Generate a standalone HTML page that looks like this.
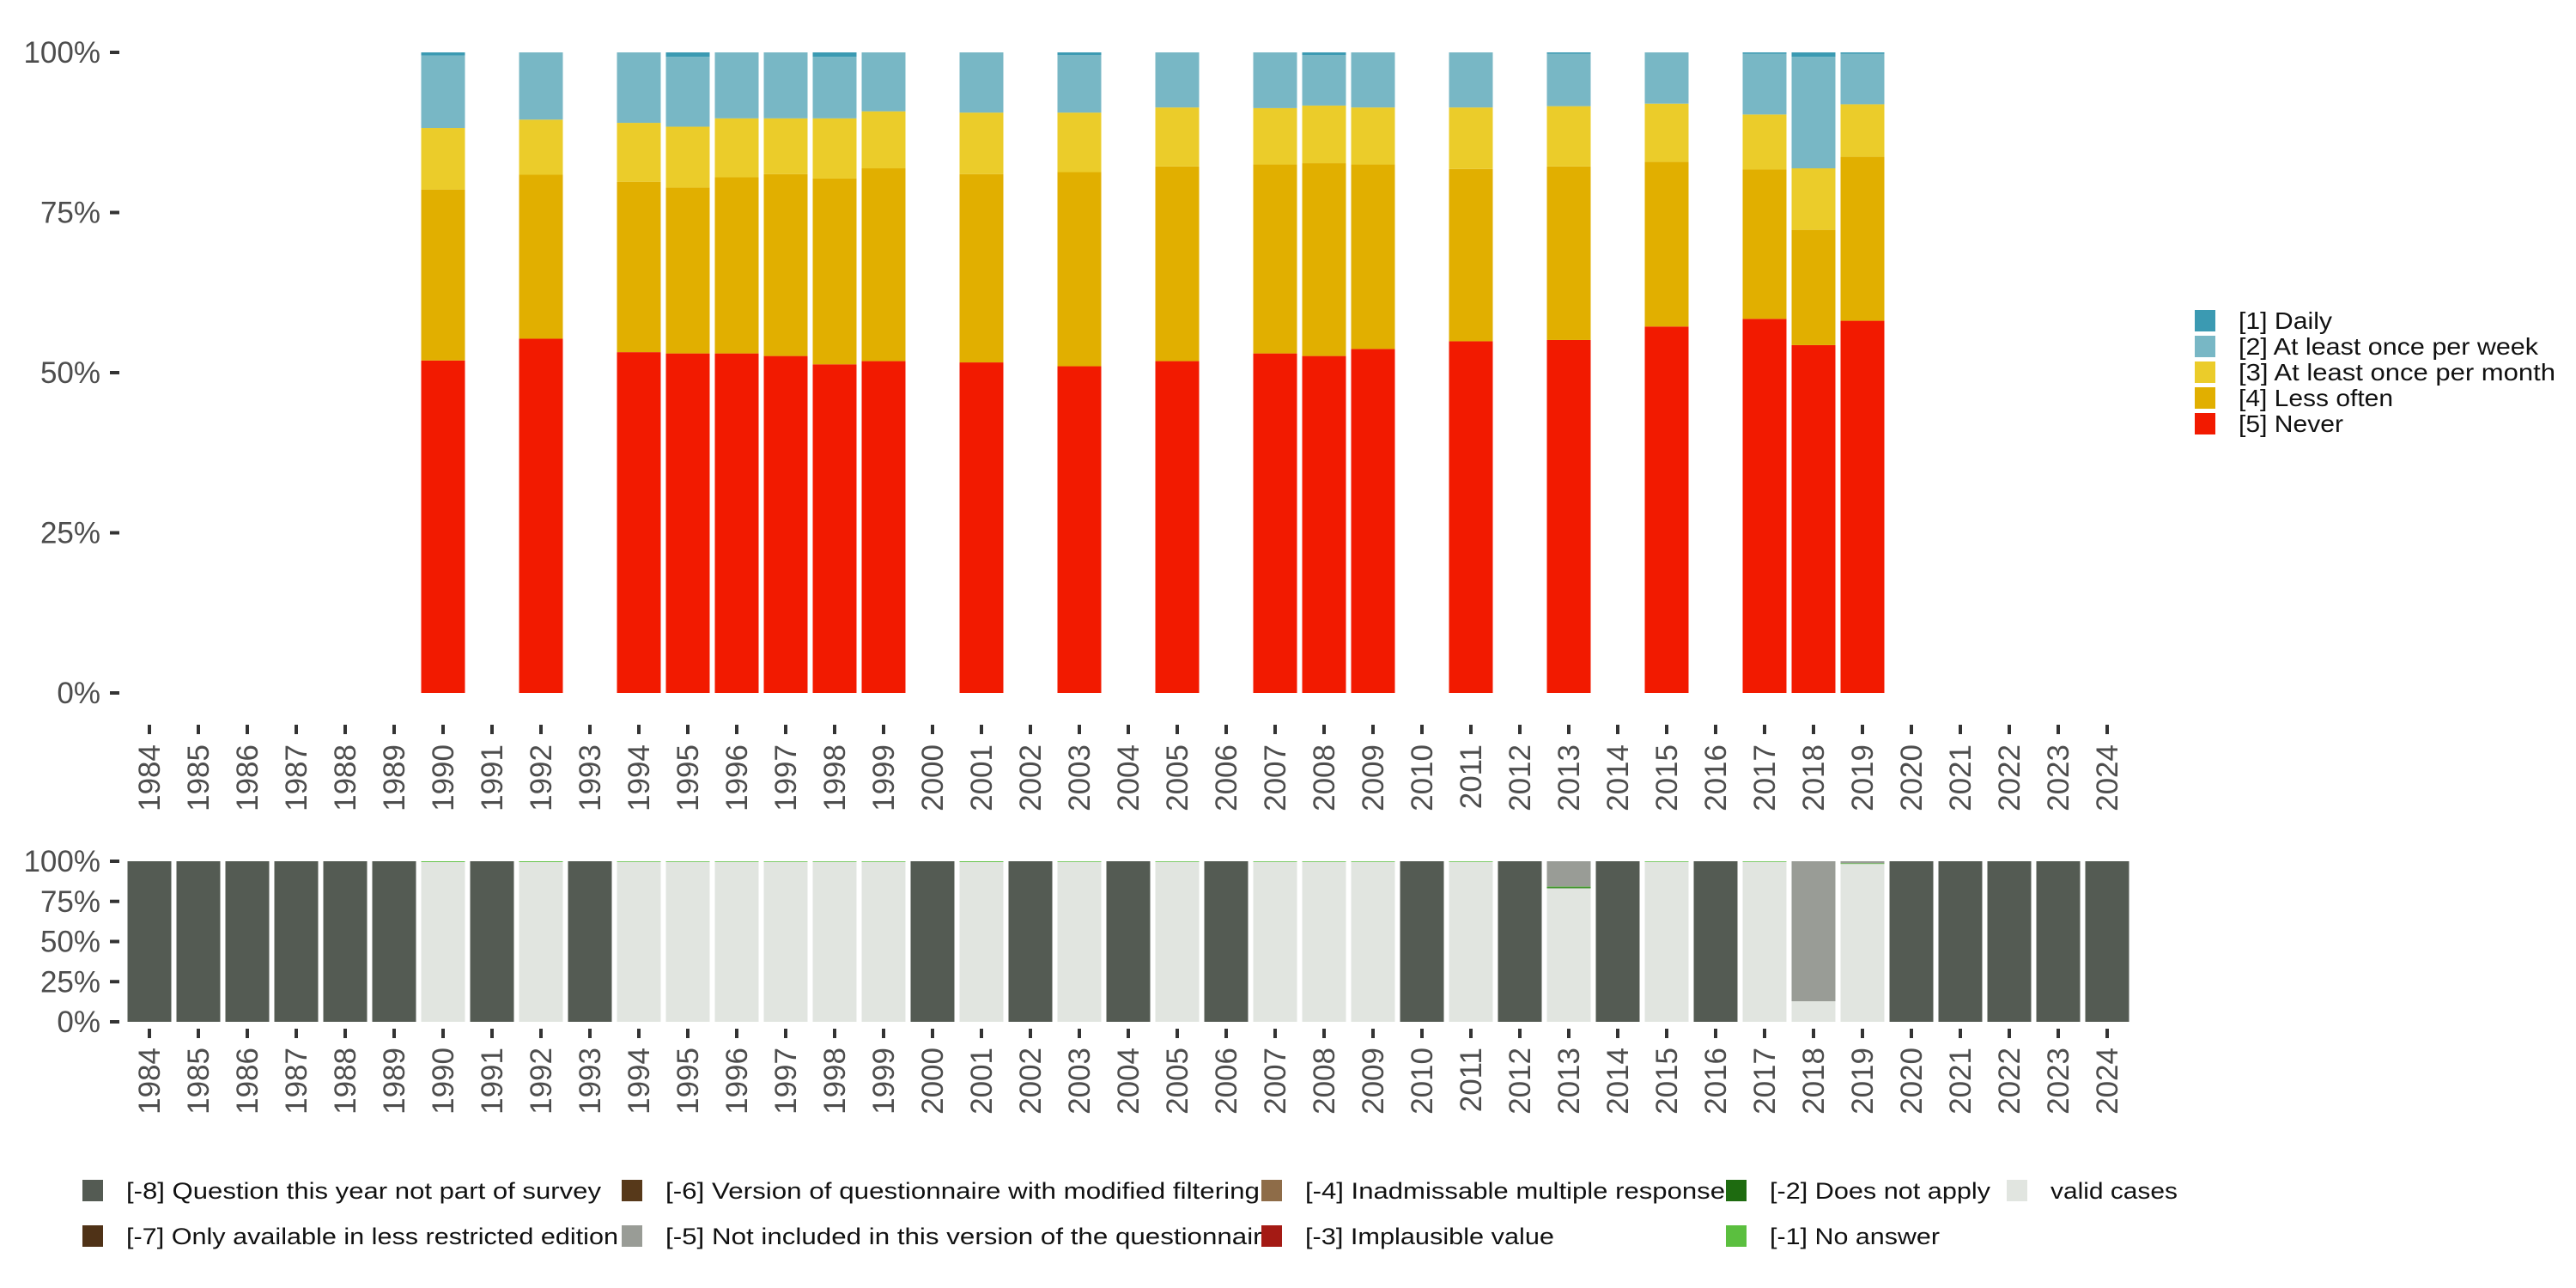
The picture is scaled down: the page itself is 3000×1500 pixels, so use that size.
<!DOCTYPE html>
<html><head><meta charset="utf-8"><style>
html,body{margin:0;padding:0;background:#fff;}
svg{display:block;font-family:"Liberation Sans",sans-serif;}
</style></head><body>
<svg id="chart" width="3000" height="1500" viewBox="0 0 3000 1500" xmlns="http://www.w3.org/2000/svg">
<g id="topchart"></g>
<g id="bottomchart"></g>
<g id="legend1"></g>
<g id="legend2"></g>
</svg>
<script>
const years = [];
for (let y = 1984; y <= 2024; y++) years.push(y);
const validYears = [1990,1992,1994,1995,1996,1997,1998,1999,2001,2003,2005,2007,2008,2009,2011,2013,2015,2017,2018,2019];
const never = [51.9,55.3,53.2,53.0,53.0,52.6,51.3,51.8,51.6,51.0,51.8,53.0,52.6,53.7,54.9,55.1,57.2,58.4,54.3,58.1];
const lessOften = [26.7,25.6,26.6,25.9,27.5,28.4,29.0,30.1,29.4,30.3,30.4,29.5,30.1,28.8,26.9,27.1,25.7,23.3,18.0,25.6];
const monthly = [9.6,8.6,9.2,9.5,9.2,8.7,9.4,8.9,9.6,9.3,9.2,8.8,9.0,8.9,9.6,9.4,9.1,8.6,9.6,8.2];
const weekly = [11.3,10.5,11.0,10.9,10.3,10.3,9.6,9.2,9.4,9.0,8.6,8.7,7.9,8.6,8.6,8.2,8.0,9.5,17.4,7.9];
const daily = [0.5,0,0,0.7,0,0,0.7,0,0,0.4,0,0,0.4,0,0,0.2,0,0.2,0.7,0.2];
const valid = [99.5,99.5,99.6,99.6,99.6,99.6,99.6,99.6,99.5,99.6,99.6,99.6,99.6,99.6,99.6,83.2,99.6,99.6,12.8,98.3];
const noAnswer = [0.5,0.5,0.4,0.4,0.4,0.4,0.4,0.4,0.5,0.4,0.4,0.4,0.4,0.4,0.4,0.5,0.4,0.4,0,0.4];
const notApply = [0,0,0,0,0,0,0,0,0,0,0,0,0,0,0,0.5,0,0,0,0];
const notIncluded = [0,0,0,0,0,0,0,0,0,0,0,0,0,0,0,15.8,0,0,87.2,1.3];
const yTicks = [0,25,50,75,100];

const NS = "http://www.w3.org/2000/svg";
function mk(tag, attrs, parent){const e=document.createElementNS(NS,tag);for(const k in attrs)e.setAttribute(k,attrs[k]);parent.appendChild(e);return e;}
const xC = y => 174 + (y - 1984) * 57;
const BW = 51;
function yTop(v){return 807 - (807 - 61) * v / 100;}
function yBot(v){return 1190 - (1190 - 1003) * v / 100;}

function axes(g, yf, tickY0, labelY){
  yTicks.forEach(t=>{
    const tk = mk('rect',{x:128,y:yf(t)-2,width:11,height:4,fill:'#333'},g);
    
    
    const lb = mk('text',{x:117,y:yf(t)+12,'text-anchor':'end','font-size':35,fill:'#4d4d4d'},g);
    
    
    lb.textContent = t + '%';
  });
  years.forEach(y=>{
    const tk = mk('rect',{x:xC(y)-2,y:tickY0,width:4,height:11,fill:'#333'},g);
    
    
    const lb = mk('text',{transform:`translate(${xC(y)+12},${labelY}) rotate(-90)`,'text-anchor':'end','font-size':35,fill:'#4d4d4d'},g);
    
    
    lb.textContent = y;
  });
}

const topG = document.getElementById('topchart');
axes(topG, yTop, 844, 867);
const topCols = ['#f21a00','#e1af00','#ebcc2a','#78b7c5','#3b9ab2'];
const topSeries = [never, lessOften, monthly, weekly, daily];
const topNames = ['never','less-often','monthly','weekly','daily'];
validYears.forEach((yr,i)=>{
  let cum = 0;
  topSeries.forEach((s,k)=>{
    const v = s[i];
    if(v<=0) return;
    const r = mk('rect',{x:xC(yr)-BW/2,y:yTop(cum+v),width:BW,height:yTop(cum)-yTop(cum+v),fill:topCols[k]},topG);
    
    
    cum += v;
  });
});

const botG = document.getElementById('bottomchart');
axes(botG, yBot, 1198, 1220);
years.forEach(yr=>{
  const i = validYears.indexOf(yr);
  let parts;
  if(i<0) parts = [[100,'#545b53','not-in-survey']];
  else parts = [[valid[i],'#e1e5e0','valid'],[notApply[i],'#1e6b10','does-not-apply'],[noAnswer[i],'#5bbf3f','no-answer'],[notIncluded[i],'#999c96','not-included']];
  let cum=0;
  parts.forEach(p=>{
    const v=p[0]; if(v<=0) return;
    const r = mk('rect',{x:xC(yr)-BW/2,y:yBot(cum+v),width:BW,height:yBot(cum)-yBot(cum+v),fill:p[1]},botG);
    
    
    cum+=v;
  });
});

const l1 = document.getElementById('legend1');
const l1Names = ['[1] Daily','[2] At least once per week','[3] At least once per month','[4] Less often','[5] Never'];
const l1Cols = ['#3b9ab2','#78b7c5','#ebcc2a','#e1af00','#f21a00'];
const l1Widths = [109,349,369,180,122];
l1Names.forEach((n,k)=>{
  const r = mk('rect',{x:2556,y:361+k*30,width:24,height:25,fill:l1Cols[k]},l1);
  
  
  const t = mk('text',{x:2607,y:383+k*30,'font-size':28,fill:'#111',textLength:l1Widths[k],lengthAdjust:'spacingAndGlyphs'},l1);
  
  
  t.textContent = n;
});

const l2 = document.getElementById('legend2');
const l2Items = [
  ['[-8] Question this year not part of survey','#545b53',96,1374,553],
  ['[-7] Only available in less restricted edition','#4f3217',96,1427,573],
  ['[-6] Version of questionnaire with modified filtering','#57391a',724,1374,692],
  ['[-5] Not included in this version of the questionnaire','#999c96',724,1427,712],
  ['[-4] Inadmissable multiple response','#8e6c48',1469,1374,489],
  ['[-3] Implausible value','#a41a14',1469,1427,290],
  ['[-2] Does not apply','#1e6b10',2010,1374,257],
  ['[-1] No answer','#5bbf3f',2010,1427,198],
  ['valid cases','#e1e5e0',2337,1374,148]
];
l2Items.forEach(it=>{
  const r = mk('rect',{x:it[2],y:it[3],width:24,height:25,fill:it[1]},l2);
  
  
  const t = mk('text',{x:it[2]+51,y:it[3]+22,'font-size':27,fill:'#111',textLength:it[4],lengthAdjust:'spacingAndGlyphs'},l2);
  
  
  t.textContent = it[0];
});
</script>
</body></html>
